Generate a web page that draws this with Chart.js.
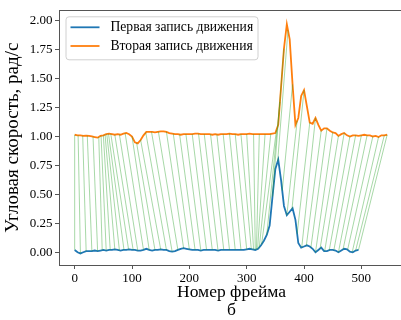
<!DOCTYPE html>
<html>
<head>
<meta charset="utf-8">
<script src="https://cdn.jsdelivr.net/npm/chart.js@4"></script>
<style>
  html, body { margin: 0; padding: 0; background: #fff; overflow: hidden; }
  #wrap { width: 401px; height: 320px; overflow: hidden; }
</style>
</head>
<body>
<div id="wrap"><canvas id="chart" width="410" height="320"></canvas></div>
<script>
// frames are sampled every STEP frames
const STEP = 5;

// first motion record, angular speed (rad/s)
const firstRecord = [
  0.02, 0.00, -0.01, 0.00, 0.01, 0.01, 0.01, 0.015, 0.01, 0.015,
  0.02, 0.015, 0.02, 0.02, 0.025, 0.02, 0.015, 0.02, 0.02, 0.025,
  0.02, 0.02, 0.015, 0.015, 0.02, 0.03, 0.02, 0.015, 0.02, 0.02,
  0.025, 0.02, 0.02, 0.01, 0.005, 0.01, 0.02, 0.03, 0.035, 0.03,
  0.025, 0.02, 0.02, 0.02, 0.015, 0.02, 0.02, 0.02, 0.02, 0.02,
  0.015, 0.02, 0.02, 0.02, 0.02, 0.02, 0.02, 0.02, 0.02, 0.02,
  0.025, 0.03, 0.025, 0.02, 0.03, 0.06, 0.10, 0.15, 0.23, 0.48,
  0.72, 0.80, 0.62, 0.40, 0.32, 0.35, 0.38, 0.28, 0.08, 0.04,
  0.05, 0.06, 0.05, 0.03, 0.00, 0.02, 0.04, 0.01, 0.01, 0.02,
  0.02, 0.015, 0.00, 0.015, 0.03, 0.025, 0.005, 0.00, 0.015, 0.02
];

// second motion record, drawn shifted up by OFFSET
const secondRecord = [
  0.015, 0.01, 0.01, 0.005, 0.008, 0.005, 0.00, -0.005, -0.01, 0.005,
  0.01, 0.02, 0.025, 0.02, 0.015, 0.02, 0.015, 0.025, 0.03, 0.02,
  0.00, -0.05, -0.06, -0.03, 0.01, 0.04, 0.04, 0.04, 0.035, 0.04,
  0.045, 0.045, 0.04, 0.03, 0.025, 0.02, 0.02, 0.015, 0.02, 0.02,
  0.02, 0.02, 0.025, 0.025, 0.02, 0.02, 0.02, 0.02, 0.015, 0.02,
  0.015, 0.02, 0.02, 0.02, 0.025, 0.02, 0.02, 0.015, 0.02, 0.02,
  0.02, 0.025, 0.02, 0.02, 0.02, 0.02, 0.02, 0.02, 0.02, 0.025,
  0.03, 0.10, 0.43, 0.76, 0.97, 0.84, 0.45, 0.10, 0.16, 0.35,
  0.40, 0.26, 0.12, 0.11, 0.16, 0.10, 0.05, 0.07, 0.07, 0.05,
  0.035, 0.03, 0.005, 0.02, 0.03, 0.01, 0.00, 0.01, 0.01, 0.005,
  0.01, 0.015, 0.01, 0.01, 0.00, 0.005, -0.005, 0.01, 0.01, 0.015
];
const OFFSET = 1;

// matched frames (DTW path, every few steps)
const pairFirst = [0, 10, 20, 30, 40, 48, 55, 62, 70, 78, 86, 94, 102, 110, 120, 130, 140, 150, 160, 170,
  180, 190, 200, 210, 220, 230, 240, 250, 260, 270, 280, 290, 300, 308, 312, 315, 317, 319, 322, 326,
  335, 345, 354, 362, 370, 379, 388, 396, 404, 412, 420, 428, 436, 444, 452, 460, 468, 476, 484, 490, 495];
const pairSecond = [0, 6, 14, 22, 32, 42, 46, 50, 53, 56, 59, 63, 70, 78, 88, 100, 108, 115, 124, 134,
  146, 160, 172, 183, 194, 205, 216, 226, 237, 248, 259, 270, 280, 290, 300, 312, 322, 332, 342, 352,
  358, 365, 372, 380, 388, 400, 410, 420, 430, 440, 450, 460, 470, 480, 490, 500, 510, 520, 530, 540, 545];

const xTicks = [0, 100, 200, 300, 400, 500];
const yTicks = [0, 0.25, 0.5, 0.75, 1.0, 1.25, 1.5, 1.75, 2.0];

const labels = ["Первая запись движения", "Вторая запись движения"];

// value of a sampled record at a given frame
function valueAt(rec, f) {
  const i = Math.min(Math.floor(f / STEP), rec.length - 1);
  const j = Math.min(i + 1, rec.length - 1);
  const t = (f - i * STEP) / STEP;
  return rec[i] + (rec[j] - rec[i]) * (j === i ? 0 : t);
}

const bluePts = firstRecord.map((v, i) => ({ x: i * STEP, y: v }));
const orangePts = secondRecord.map((v, i) => ({ x: i * STEP, y: v + OFFSET }));

const linkPts = [];
pairFirst.forEach((a, k) => {
  const b = pairSecond[k];
  linkPts.push({ x: a, y: valueAt(firstRecord, a) });
  linkPts.push({ x: b, y: valueAt(secondRecord, b) + OFFSET });
  linkPts.push({ x: b, y: null });
});

const serif = "'Liberation Serif', 'Times New Roman', serif";

const framePlugin = {
  id: "frame",
  afterDatasetsDraw(chart) {
    const { ctx, chartArea: a } = chart;
    ctx.save();
    ctx.strokeStyle = "#555";
    ctx.lineWidth = 1;
    ctx.strokeRect(Math.round(a.left) + 0.5, Math.round(a.top) + 0.5,
      Math.round(a.right - a.left), Math.round(a.bottom - a.top));
    ctx.restore();
  },
  afterDraw(chart) {
    // legend box in the upper left corner
    const { ctx, chartArea: a } = chart;
    const x = a.left + 6.5, y = a.top + 6, w = 192, h = 43;
    ctx.save();
    ctx.beginPath();
    ctx.roundRect(x + 0.5, y + 0.5, w, h, 3);
    ctx.fillStyle = "rgba(255,255,255,0.85)";
    ctx.fill();
    ctx.strokeStyle = "#d0d0d0";
    ctx.lineWidth = 1;
    ctx.stroke();
    ctx.font = "13.6px " + serif;
    ctx.textBaseline = "middle";
    [0, 1].forEach((k) => {
      const ds = chart.data.datasets[k];
      const ly = y + 11 + k * 18.7;
      ctx.strokeStyle = ds.borderColor;
      ctx.lineWidth = 1.8;
      ctx.beginPath();
      ctx.moveTo(x + 5, ly);
      ctx.lineTo(x + 34, ly);
      ctx.stroke();
      ctx.fillStyle = "#000";
      ctx.fillText(ds.label, x + 45, ly);
    });
    ctx.restore();
  }
};

new Chart(document.getElementById("chart"), {
  type: "line",
  data: {
    datasets: [
      {
        label: labels[0],
        data: bluePts,
        borderColor: "#1f77b4",
        borderWidth: 1.8,
        pointRadius: 0,
        tension: 0,
        order: 2,
      },
      {
        label: labels[1],
        data: orangePts,
        borderColor: "#ff7f0e",
        borderWidth: 1.8,
        pointRadius: 0,
        tension: 0,
        order: 1,
      },
      {
        label: "links",
        data: linkPts,
        borderColor: "rgba(44,160,44,0.6)",
        borderWidth: 0.7,
        pointRadius: 0,
        spanGaps: false,
        tension: 0,
        order: 0,
      },
    ],
  },
  options: {
    responsive: false,
    animation: false,
    devicePixelRatio: 1,
    layout: { padding: { top: 7, right: 6, left: 0, bottom: 0 } },
    plugins: { legend: { display: false }, tooltip: { enabled: false } },
    scales: {
      x: {
        type: "linear",
        min: -27.35,
        max: 574.35,
        afterBuildTicks: (s) => { s.ticks = xTicks.map((v) => ({ value: v })); },
        afterFit: (s) => { s.height = 55; },
        grid: { drawOnChartArea: false, drawTicks: true, tickLength: 4, color: "#555" },
        border: { display: false },
        ticks: { color: "#000", font: { family: serif, size: 13 }, padding: 1.5, maxRotation: 0 },
        title: {
          display: true,
          text: ["Номер фрейма", "б"],
          color: "#000",
          font: { family: serif, size: 17.5, lineHeight: 1.05 },
          padding: { top: 0, bottom: 0 },
        },
      },
      y: {
        type: "linear",
        min: -0.11,
        max: 2.09,
        afterBuildTicks: (s) => { s.ticks = yTicks.map((v) => ({ value: v })); },
        afterFit: (s) => { s.width = 59; },
        grid: { drawOnChartArea: false, drawTicks: true, tickLength: 4, color: "#555" },
        border: { display: false },
        ticks: {
          color: "#000",
          font: { family: serif, size: 13 },
          padding: 2.5,
          callback: (v) => v.toFixed(2),
        },
        title: {
          display: true,
          text: "Угловая скорость, рад/с",
          color: "#000",
          font: { family: serif, size: 19 },
          padding: { top: 2, bottom: 0 },
        },
      },
    },
  },
  plugins: [framePlugin],
});
</script>
</body>
</html>
